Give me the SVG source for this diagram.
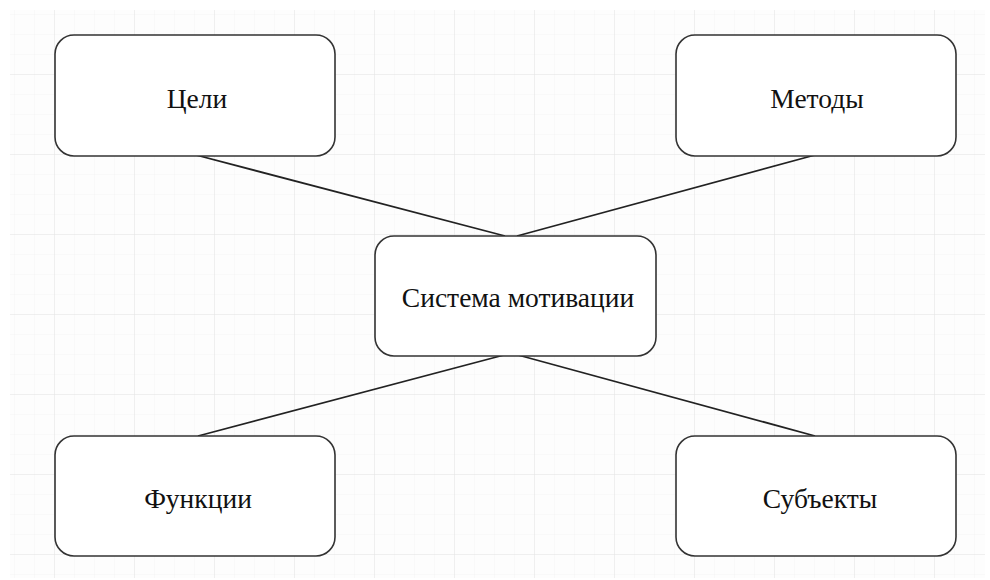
<svg xmlns="http://www.w3.org/2000/svg" width="990" height="580" viewBox="0 0 990 580">
<defs>
<pattern id="minor" x="15" y="15" width="20" height="20" patternUnits="userSpaceOnUse">
<path d="M20 0V20M0 20H20" fill="none" stroke="#f4f4f4" stroke-width="1"/>
</pattern>
<pattern id="major" x="-25" y="-5" width="80" height="80" patternUnits="userSpaceOnUse">
<path d="M80 0V80M0 80H80" fill="none" stroke="#e4e4e4" stroke-width="1"/>
</pattern>
</defs>
<style>
.node rect{fill:#fff;stroke:#333;stroke-width:1.6}
.node text{font-family:"Liberation Serif","DejaVu Serif",serif;font-size:27.5px;fill:#111;text-anchor:middle}
#connectors line{stroke:#222;stroke-width:1.8}
</style>
<rect width="990" height="580" fill="#fff"/>
<rect x="10" y="10" width="975" height="568" fill="#fdfdfd"/>
<rect x="10" y="10" width="975" height="568" fill="url(#minor)"/>
<rect x="10" y="10" width="975" height="568" fill="url(#major)"/>
<g id="connectors">
<line x1="196" y1="155" x2="505" y2="236"/>
<line x1="815" y1="155" x2="517" y2="236"/>
<line x1="504" y1="355" x2="198" y2="436"/>
<line x1="518" y1="355" x2="815" y2="436"/>
</g>
<g id="node-goals" class="node">
<rect x="55" y="35" width="280" height="121" rx="19"/>
<text x="197" y="108">Цели</text>
</g>
<g id="node-methods" class="node">
<rect x="676" y="35" width="280" height="121" rx="19"/>
<text x="817" y="108">Методы</text>
</g>
<g id="node-system" class="node">
<rect x="375" y="236" width="281" height="120" rx="19"/>
<text x="518" y="307">Система мотивации</text>
</g>
<g id="node-functions" class="node">
<rect x="55" y="436" width="280" height="120" rx="19"/>
<text x="198" y="508">Функции</text>
</g>
<g id="node-subjects" class="node">
<rect x="676" y="436" width="280" height="120" rx="19"/>
<text x="820" y="508">Субъекты</text>
</g>
</svg>
